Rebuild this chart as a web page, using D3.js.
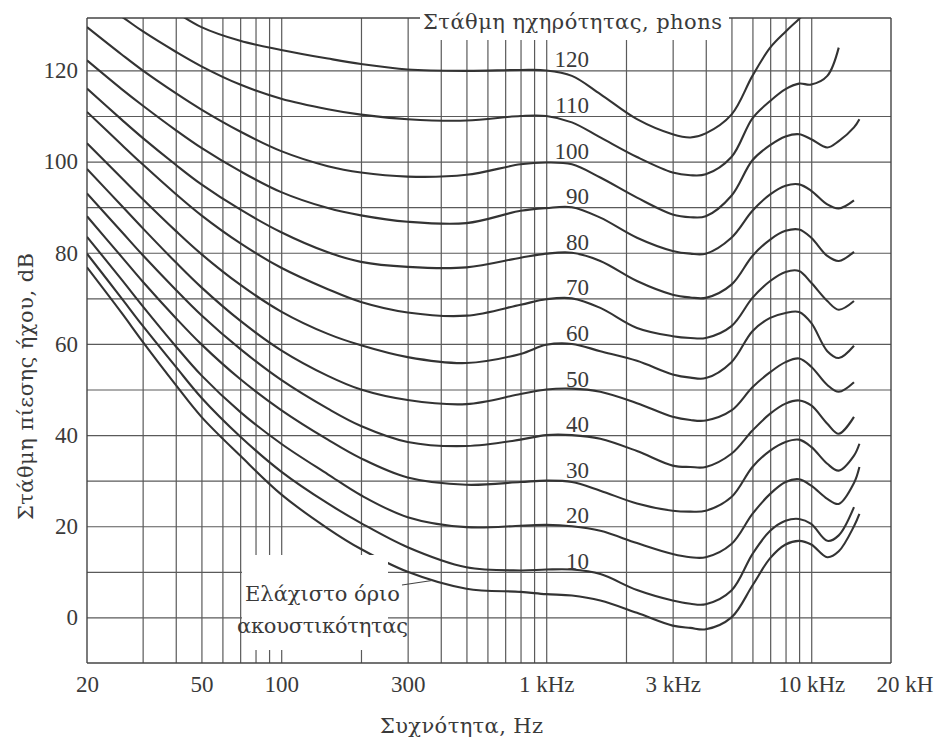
<!DOCTYPE html>
<html>
<head>
<meta charset="utf-8">
<script src="https://cdn.jsdelivr.net/npm/d3@7"></script>
<style>
  body { margin: 0; background: #fff; }
  text { font-family: "Liberation Serif", "Times New Roman", serif; fill: #3a3a3a; }
  text.greek { font-family: "DejaVu Serif", serif; }
  .grid line { stroke: #5a5a5a; stroke-width: 1.2; }
</style>
</head>
<body>
<div id="chart"></div>
<script>
// Frequencies (Hz) every contour is sampled at; the first column is the left edge of the chart
var freqs = [18.5, 25, 30, 40, 50, 70, 100, 150, 200, 300, 500, 800, 1000, 1250, 1600, 2200,
             3000, 3500, 4000, 5000, 6000, 7000, 8000, 9000, 10000, 11500, 12700, 14500, 15200];

// Sound pressure level (dB) of each equal-loudness contour at those frequencies
var threshold = [76.8, 66.8, 60.5, 51, 44, 35.5, 27, 19.5, 15, 10, 6.3, 5.6, 5.1, 4.8, 3.7, 1,
                 -1.8, -2.3, -2.6, 0, 7, 13, 16, 16.8, 16, 13.2, 14.5, 20, 22.7];
var phon10 = [79.8, 70, 64, 55, 48.2, 39.7, 32, 25, 20.7, 15.4, 11, 10.3, 10.5, 10.5, 9.5, 6,
              3.7, 3, 2.9, 5.9, 13.9, 19, 21.2, 21.6, 20.5, 16.8, 18, 24.2, null];
var phon20 = [83.5, 74.1, 68.3, 59.5, 53.1, 45.1, 38.1, 31.4, 26.8, 22, 19.8, 20.1, 20.3, 20, 19, 16.3,
              13.9, 13.2, 13.2, 16.1, 22.7, 27.1, 29.7, 30.3, 28.9, 26, 24.9, 29.5, 33];
var phon30 = [88, 79.1, 73.7, 65.7, 59.9, 52.3, 45.5, 39, 34.9, 30.7, 29.1, 29.7, 30, 29.7, 27.8, 25,
              23.4, 23.2, 23.4, 26.4, 33, 36.6, 38.5, 39, 37.4, 33.7, 32.2, 35.5, 38.1];
var phon40 = [93, 84.6, 79.5, 71.9, 66.3, 58.9, 52.1, 45.8, 42, 38.5, 37.6, 39, 40, 40, 39.2, 36.5,
              33.3, 33, 33, 35.9, 41, 44.7, 46.9, 47.6, 46.5, 42.5, 40.3, 44, null];
var phon50 = [98.4, 90.3, 85.4, 77.9, 72.4, 65.1, 58.6, 53, 50, 47.7, 46.8, 49, 50, 50.2, 49.5, 47,
              44, 43.3, 43.2, 45.4, 50.5, 53.8, 56, 56.8, 55, 51, 49.5, 51.6, null];
var phon60 = [104, 96.4, 91.8, 84.8, 79.7, 73, 67.1, 62.2, 59.7, 57.1, 55.8, 57.8, 59.8, 60, 58.4, 56.3,
              53.3, 52.6, 52.5, 56, 62.8, 65.7, 66.8, 67, 64.6, 58.4, 56.9, 59.6, null];
var phon70 = [110.9, 103.7, 99.4, 92.9, 88.2, 82.1, 76.7, 72, 69.2, 66.9, 66.2, 68.6, 69.8, 70, 67.9, 63.5,
              61.7, 61.3, 61.3, 63.9, 70.1, 73.8, 75.8, 76, 73.4, 69.4, 67.5, 69.4, null];
var phon80 = [116, 109.2, 105.2, 99.3, 95, 89.5, 84.5, 80.1, 78, 76.9, 76.8, 78.9, 79.8, 80, 78.2, 73.8,
              70.8, 70.2, 70.1, 73, 79.3, 82.9, 84.8, 85.1, 83.3, 79.3, 78.2, 80.2, null];
var phon90 = [122.2, 115.9, 112.3, 106.9, 103, 97.9, 93.3, 89.8, 88.2, 86.8, 86.5, 89.2, 89.8, 90, 87.7, 83.3,
              80.4, 79.8, 79.8, 83.3, 89.2, 92.8, 94.7, 95, 93.6, 90.6, 89.7, 91.5, null];
var phon100 = [129.5, 123.5, 120, 115, 111.4, 106.6, 102.3, 99, 97.6, 96.7, 97.1, 99.4, 99.8, 99.4, 96.5, 92.1,
               88.4, 87.8, 88, 92.5, 100.3, 103.6, 105.5, 106, 104.9, 103.1, 104.5, 107.5, 109.3];
var phon110 = [136.5, 131.8, 128.6, 124.1, 120.9, 116.9, 113.8, 111.5, 110.3, 109.3, 109, 110, 110, 108.6, 105.3, 101,
               97.6, 97, 97.2, 101, 109.5, 113.3, 115.9, 117.1, 116.9, 118.8, 125, null, null];
var phon120 = [null, null, 137.5, 132.8, 129.5, 126.5, 124.5, 122.6, 121.4, 120.2, 119.9, 120.1, 120, 118.8, 114.8, 109.3,
               106, 105.3, 106.2, 110.3, 118.8, 125, 128.5, 131.3, 134, null, null, null, null];

var contours = [threshold, phon10, phon20, phon30, phon40, phon50, phon60,
                phon70, phon80, phon90, phon100, phon110, phon120];
var phonLabels = [10, 20, 30, 40, 50, 60, 70, 80, 90, 100, 110, 120];

// Axes
var freqTicks = [18.5, 50, 100, 300, 1000, 3000, 10000, 20000];
var freqTickLabels = ["20", "50", "100", "300", "1 kHz", "3 kHz", "10 kHz", "20 kH"];
var freqGrid = [30, 40, 50, 60, 70, 80, 90, 100, 200, 300, 400, 500, 600, 700, 800, 900,
                1000, 2000, 3000, 4000, 5000, 6000, 7000, 8000, 9000, 10000];
var levelTicks = [0, 20, 40, 60, 80, 100, 120];
var levelGrid = [0, 10, 20, 30, 40, 50, 60, 70, 80, 90, 100, 110, 120];

var svgWidth = 937;
var svgHeight = 740;

var margin = { top: 18, right: 46, bottom: 77, left: 87 };
var width = svgWidth - margin.left - margin.right;
var height = svgHeight - margin.top - margin.bottom;

var svg = d3.select("#chart")
  .append("svg")
  .attr("width", svgWidth)
  .attr("height", svgHeight)
  .style("display", "block");

var chartGroup = svg.append("g")
  .attr("transform", `translate(${margin.left}, ${margin.top})`);

var xScale = d3.scaleLog()
  .domain([18.5, 20000])
  .range([0, width]);

var yScale = d3.scaleLinear()
  .domain([-10, 131.5])
  .range([height, 0]);

chartGroup.append("clipPath")
  .attr("id", "plot-clip")
  .append("rect")
  .attr("width", width)
  .attr("height", height);

// grid
chartGroup.append("g")
  .attr("class", "grid")
  .attr("transform", `translate(0, ${height})`)
  .call(d3.axisBottom(xScale).tickValues(freqGrid).tickSize(-height).tickFormat(""))
  .call(g => g.select(".domain").remove());

chartGroup.append("g")
  .attr("class", "grid")
  .call(d3.axisLeft(yScale).tickValues(levelGrid).tickSize(-width).tickFormat(""))
  .call(g => g.select(".domain").remove());

// white patches where the printed grid is interrupted by text
svg.append("rect")
  .attr("x", 420).attr("y", 0)
  .attr("width", 309).attr("height", 40)
  .attr("fill", "#fff");

svg.append("rect")
  .attr("x", 242).attr("y", 555)
  .attr("width", 146).attr("height", 95)
  .attr("fill", "#fff");

// frame
var frame = chartGroup.append("g")
  .attr("stroke", "#444")
  .attr("stroke-width", 1.4);

frame.append("line").attr("x1", 0).attr("x2", 0).attr("y1", 0).attr("y2", height);
frame.append("line").attr("x1", 0).attr("x2", width).attr("y1", height).attr("y2", height);
frame.append("line").attr("x1", width).attr("x2", width).attr("y1", 0).attr("y2", height);
frame.append("line").attr("x1", 0).attr("x2", 420 - margin.left).attr("y1", 0).attr("y2", 0);
frame.append("line").attr("x1", 729 - margin.left).attr("x2", width).attr("y1", 0).attr("y2", 0);

// contours
var line = d3.line()
  .defined(d => d[1] !== null)
  .x(d => xScale(d[0]))
  .y(d => yScale(d[1]))
  .curve(d3.curveCatmullRom.alpha(0.5));

chartGroup.append("g")
  .attr("clip-path", "url(#plot-clip)")
  .selectAll("path")
  .data(contours)
  .enter()
  .append("path")
  .attr("d", levels => line(levels.map((v, i) => [freqs[i], v])))
  .attr("fill", "none")
  .attr("stroke", "#333")
  .attr("stroke-width", 2.1);

// phon labels
chartGroup.selectAll(".phon")
  .data(phonLabels)
  .enter()
  .append("text")
  .attr("class", "phon")
  .attr("x", xScale(1450))
  .attr("y", d => yScale(d) - 3)
  .attr("text-anchor", "end")
  .attr("font-size", "23px")
  .text(d => d);

// axes labels
var leftAxis = chartGroup.append("g")
  .call(d3.axisLeft(yScale).tickValues(levelTicks).tickSize(0).tickPadding(9))
  .call(g => g.select(".domain").remove());
leftAxis.selectAll("text")
  .attr("font-size", "23px")
  .attr("font-family", null);

var bottomAxis = chartGroup.append("g")
  .attr("transform", `translate(0, ${height})`)
  .call(d3.axisBottom(xScale).tickValues(freqTicks).tickSize(0).tickPadding(13)
    .tickFormat((d, i) => freqTickLabels[i]))
  .call(g => g.select(".domain").remove());
bottomAxis.selectAll("text")
  .attr("font-size", "23px")
  .attr("font-family", null);
bottomAxis.selectAll("text")
  .filter((d, i) => i === freqTicks.length - 1)
  .attr("text-anchor", "start")
  .attr("dx", -15);

// titles
svg.append("text")
  .attr("class", "greek")
  .attr("x", 423)
  .attr("y", 29)
  .attr("font-size", "21px")
  .attr("textLength", 299)
  .text("Στάθμη ηχηρότητας, phons");

svg.append("text")
  .attr("class", "greek")
  .attr("x", 380)
  .attr("y", 733)
  .attr("font-size", "21px")
  .attr("textLength", 163)
  .text("Συχνότητα, Hz");

svg.append("text")
  .attr("class", "greek")
  .attr("transform", "translate(33, 520) rotate(-90)")
  .attr("font-size", "21px")
  .attr("textLength", 267)
  .text("Στάθμη πίεσης ήχου, dB");

// threshold annotation
svg.append("text")
  .attr("class", "greek")
  .attr("x", 245)
  .attr("y", 601)
  .attr("font-size", "21px")
  .attr("textLength", 155)
  .text("Ελάχιστο όριο");

svg.append("text")
  .attr("class", "greek")
  .attr("x", 237)
  .attr("y", 633)
  .attr("font-size", "21px")
  .attr("textLength", 171)
  .text("ακουστικότητας");

svg.append("line")
  .attr("x1", 402).attr("y1", 585)
  .attr("x2", 432).attr("y2", 580.5)
  .attr("stroke", "#444")
  .attr("stroke-width", 1.2);
</script>
</body>
</html>
